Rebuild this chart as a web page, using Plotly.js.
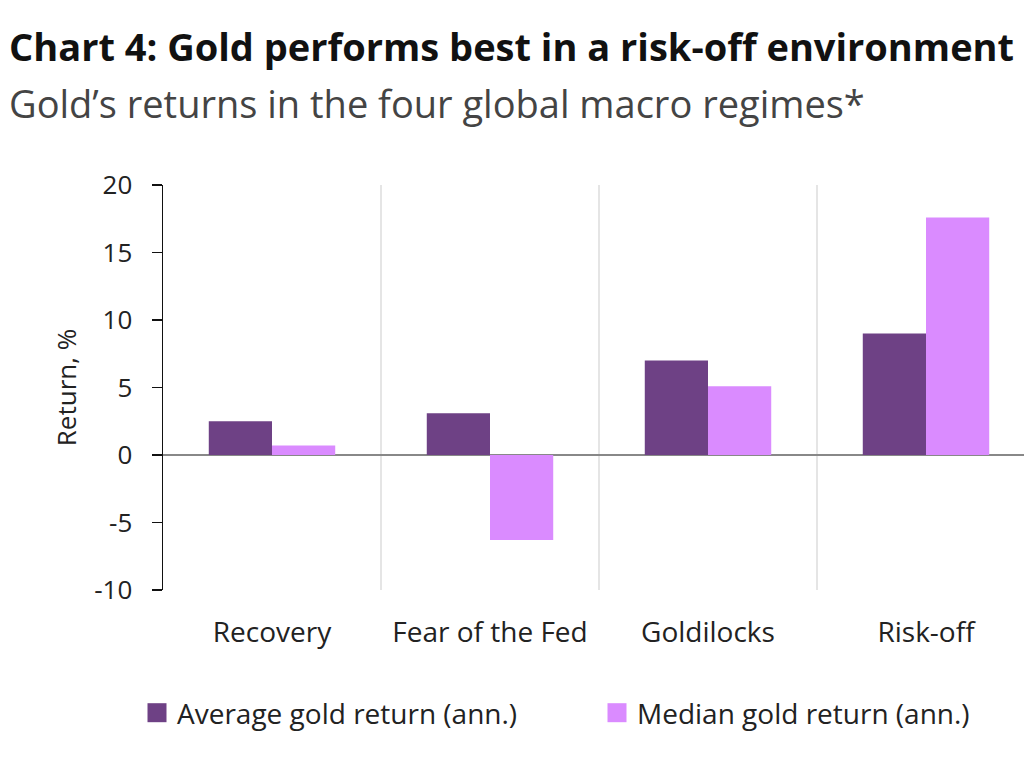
<!DOCTYPE html>
<html><head><meta charset="utf-8">
<script src="https://cdn.plot.ly/plotly-3.0.1.min.js"></script>
<style>html,body{margin:0;padding:0;overflow:hidden;background:#fff;width:1024px;height:768px}#chart{width:1040px;height:768px}</style>
</head><body><div id="chart"></div>
<script>
const categories = ["Recovery", "Fear of the Fed", "Goldilocks", "Risk-off"];
const averageReturn = [2.5, 3.1, 7.0, 9.0];
const medianReturn = [0.7, -6.3, 5.1, 17.6];
const seriesNames = ["Average gold return (ann.)", "Median gold return (ann.)"];
const yTicks = [-10, -5, 0, 5, 10, 15, 20];

const W = 1040, H = 768, ml = 163, mr = 5, mt = 185, mb = 178;
const pw = W - ml - mr, ph = H - mt - mb;
const px = x => (x - ml) / pw;
const py = y => (H - mb - y) / ph;

const font = "Open Sans, Noto Sans, sans-serif";
const traces = [
  {type: "bar", name: seriesNames[0], x: categories, y: averageReturn, marker: {color: "#6E4185"}, legend: "legend"},
  {type: "bar", name: seriesNames[1], x: categories, y: medianReturn, marker: {color: "#DA8BFF"}, legend: "legend2"}
];
const shapes = [0.5, 1.5, 2.5].map(v => ({
  type: "line", xref: "x", yref: "paper", x0: v, x1: v, y0: 0, y1: 1,
  line: {color: "#dcdcdc", width: 1.5}, layer: "below"
}));
const legendBase = {orientation: "h", xanchor: "left", y: py(713), yanchor: "middle",
  font: {size: 28, color: "#222"}, itemwidth: 30, bgcolor: "rgba(0,0,0,0)"};
const layout = {
  width: W, height: H,
  margin: {l: ml, r: mr, t: mt, b: mb},
  paper_bgcolor: "#fff", plot_bgcolor: "#fff",
  font: {family: font, color: "#222", size: 28},
  barmode: "group", bargap: 0.42, bargroupgap: 0,
  showlegend: true,
  legend: Object.assign({}, legendBase, {x: px(137)}),
  legend2: Object.assign({}, legendBase, {x: px(597)}),
  xaxis: {type: "category", showgrid: false, showline: false, zeroline: false, ticks: "",
    tickfont: {size: 28, color: "#222"}, ticklabelstandoff: 23},
  yaxis: {range: [-10, 20], tickvals: yTicks, ticktext: yTicks.map(String), showgrid: false,
    showline: true, linecolor: "#111", linewidth: 1.5, ticks: "outside", ticklen: 10, tickwidth: 1.5, tickcolor: "#111",
    zeroline: true, zerolinecolor: "#888", zerolinewidth: 1.5,
    tickfont: {size: 26, color: "#222"}, ticklabelstandoff: 14,
    title: {text: "Return, %", font: {size: 26, color: "#222"}, standoff: 10}},
  shapes: shapes,
  annotations: [
    {xref: "paper", yref: "paper", x: px(7), y: py(46), xanchor: "left", yanchor: "middle",
     text: "<b>Chart 4: Gold performs best in a risk-off environment</b>", showarrow: false,
     font: {size: 38, color: "#111", family: font}},
    {xref: "paper", yref: "paper", x: px(7), y: py(103), xanchor: "left", yanchor: "middle",
     text: "Gold’s returns in the four global macro regimes*", showarrow: false,
     font: {size: 38, color: "#444", family: font}}
  ]
};
Plotly.newPlot("chart", traces, layout, {displayModeBar: false, staticPlot: true}).then(gd => {
  gd.querySelectorAll(".legendpoints path").forEach(p => {
    p.setAttribute("d", "M9.5,9.5H-9.5V-9.5H9.5Z");
  });
});
</script></body></html>
